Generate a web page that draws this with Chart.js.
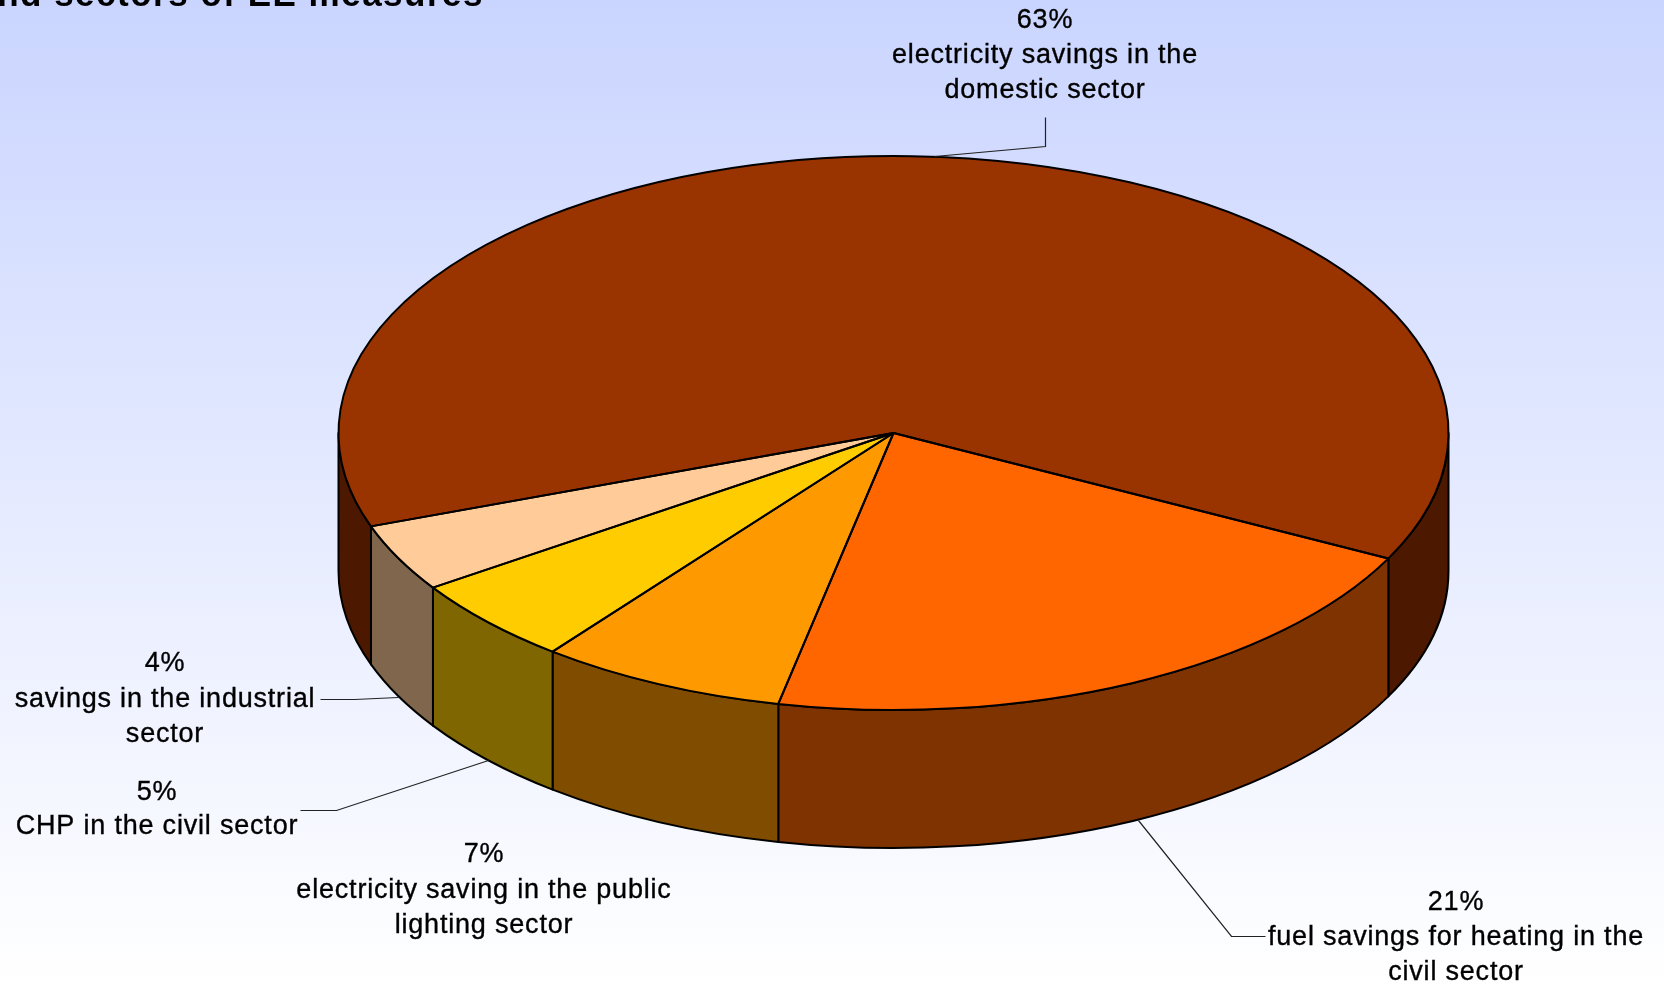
<!DOCTYPE html>
<html>
<head>
<meta charset="utf-8">
<title>Energy savings by sector of EE measures</title>
<style>
html,body{margin:0;padding:0;background:#fff;overflow:hidden}
#wrap{width:1664px;height:984px;position:relative}
canvas{display:block}
</style>
<script src="https://cdn.jsdelivr.net/npm/chart.js@4/dist/chart.umd.min.js"></script>
</head>
<body>
<div id="wrap"><canvas id="c" width="1664" height="984"></canvas></div>
<script>
const categories = [
  "electricity savings in the domestic sector",
  "fuel savings for heating in the civil sector",
  "electricity saving in the public lighting sector",
  "CHP in the civil sector",
  "savings in the industrial sector"
];
const shares = [62.95, 20.85, 7.2, 5.05, 3.95];
const topColors  = ["#993300", "#FF6600", "#FF9900", "#FFCC00", "#FFCC99"];
const sideColors = ["#4C1900", "#7F3300", "#7F4C00", "#7F6600", "#7F664C"];
const titleText = "and sectors of EE measures";

const FONT = '"Liberation Sans", Arial, sans-serif';
const labelBoxes = [
  {x:1045, ys:[21,56,91],    lines:["electricity savings in the","domestic sector"], leader:[[1045,117],[1045,146],[934,156]]},
  {x:1456, ys:[903,938,973], lines:["fuel savings for heating in the","civil sector"], leader:[[1138,820],[1231,936],[1265,936]]},
  {x:484,  ys:[855,891,926], lines:["electricity saving in the public","lighting sector"], leader:null},
  {x:157,  ys:[793,827],     lines:["CHP in the civil sector"], leader:[[488,760],[336,810],[300,810]]},
  {x:165,  ys:[664,700,735], lines:["savings in the industrial","sector"], leader:[[398,697],[354,699],[320,699]]}
];

const RX = 555, RY = 277, DEPTH = 138;

function arcsOf(chart){ return chart.getDatasetMeta(0).data; }

const pie3d = {
  id: 'pie3d',
  beforeDraw(chart){
    const {ctx, width, height} = chart;
    const g = ctx.createLinearGradient(0,0,0,height);
    g.addColorStop(0,'#CAD5FF');
    g.addColorStop(1,'#FFFFFF');
    ctx.save();
    ctx.fillStyle = g;
    ctx.fillRect(0,0,width,height);
    ctx.restore();
  },
  beforeDatasetDraw(chart){
    const ctx = chart.ctx, arcs = arcsOf(chart);
    const cx = arcs[0].x, cy = arcs[0].y, r = arcs[0].outerRadius;
    const TAU = Math.PI*2;
    ctx.save();
    ctx.lineWidth = 2;
    ctx.strokeStyle = '#000';
    ctx.lineJoin = 'round';
    arcs.forEach((arc,i)=>{
      const a0 = arc.startAngle, a1 = arc.endAngle;
      // visible front of the rim: angles whose sine is positive
      for(let k=-1;k<=2;k++){
        const lo = Math.max(a0, k*TAU), hi = Math.min(a1, k*TAU+Math.PI);
        if(hi<=lo) continue;
        ctx.beginPath();
        ctx.ellipse(cx,cy,RX,RY,0,lo,hi,false);
        ctx.lineTo(cx+RX*Math.cos(hi), cy+RY*Math.sin(hi)+DEPTH);
        ctx.ellipse(cx,cy+DEPTH,RX,RY,0,hi,lo,true);
        ctx.closePath();
        ctx.fillStyle = sideColors[i];
        ctx.fill();
        ctx.stroke();
      }
    });
    ctx.restore();
    // top face: the library's own arcs, flattened around the pie centre
    ctx.save();
    ctx.translate(cx,cy);
    ctx.scale(RX/r,RY/r);
    ctx.translate(-cx,-cy);
  },
  afterDatasetDraw(chart){
    const ctx = chart.ctx, arcs = arcsOf(chart);
    ctx.restore();
    const cx = arcs[0].x, cy = arcs[0].y;
    ctx.save();
    ctx.lineWidth = 2;
    ctx.strokeStyle = '#000';
    ctx.lineJoin = 'round';
    arcs.forEach(arc=>{
      ctx.beginPath();
      ctx.moveTo(cx,cy);
      ctx.ellipse(cx,cy,RX,RY,0,arc.startAngle,arc.endAngle,false);
      ctx.closePath();
      ctx.stroke();
    });
    ctx.restore();
  },
  afterDraw(chart){
    const ctx = chart.ctx;
    ctx.save();
    // title, cropped by the top edge as in the source image
    ctx.fillStyle = '#000';
    ctx.font = 'bold 35px '+FONT;
    ctx.letterSpacing = '1.5px';
    ctx.textAlign = 'right';
    ctx.textBaseline = 'alphabetic';
    ctx.fillText(titleText, 484, 6);
    // leaders
    ctx.letterSpacing = '0px';
    ctx.strokeStyle = '#222';
    ctx.lineWidth = 1.2;
    labelBoxes.forEach(b=>{
      if(!b.leader) return;
      ctx.beginPath();
      b.leader.forEach((p,i)=> i?ctx.lineTo(p[0]+.5,p[1]+.5):ctx.moveTo(p[0]+.5,p[1]+.5));
      ctx.stroke();
    });
    // labels
    ctx.fillStyle = '#000';
    ctx.strokeStyle = '#000';
    ctx.lineWidth = 0.35;
    ctx.font = '27px '+FONT;
    ctx.letterSpacing = '0.8px';
    ctx.textAlign = 'center';
    ctx.textBaseline = 'middle';
    labelBoxes.forEach((b,i)=>{
      const pct = Math.round(shares[i])+'%';
      ctx.fillText(pct, b.x, b.ys[0]);
      ctx.strokeText(pct, b.x, b.ys[0]);
      b.lines.forEach((t,j)=>{ ctx.fillText(t, b.x, b.ys[j+1]); ctx.strokeText(t, b.x, b.ys[j+1]); });
    });
    ctx.restore();
  }
};

new Chart(document.getElementById('c'), {
  type: 'pie',
  data: {
    labels: categories,
    datasets: [{ data: shares, backgroundColor: topColors, borderWidth: 0, hoverOffset: 0 }]
  },
  options: {
    responsive: false,
    animation: false,
    devicePixelRatio: 1,
    rotation: 250.3,
    layout: { padding: { left: 123, bottom: 118, top: 0, right: 0 } },
    plugins: { legend: { display: false }, tooltip: { enabled: false }, title: { display: false } }
  },
  plugins: [pie3d]
});
</script>
</body>
</html>
